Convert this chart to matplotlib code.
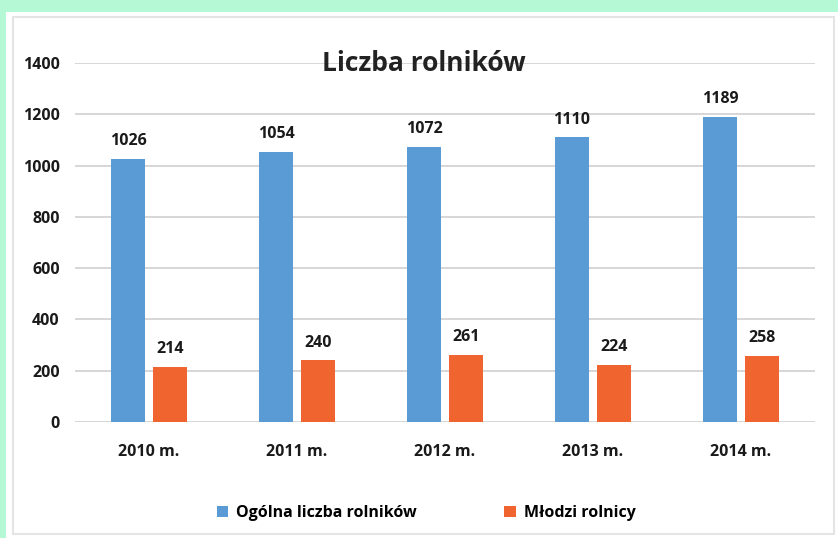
import matplotlib
matplotlib.use("Agg")
import matplotlib.pyplot as plt
from matplotlib.patches import Rectangle
import numpy as np

categories = ["2010 m.", "2011 m.", "2012 m.", "2013 m.", "2014 m."]
ogolna = [1026, 1054, 1072, 1110, 1189]
mlodzi = [214, 240, 261, 224, 258]
series_names = ["Ogólna liczba rolników", "Młodzi rolnicy"]
yticks = [0, 200, 400, 600, 800, 1000, 1200, 1400]

plt.rcParams['font.family'] = ['Liberation Sans Narrow', 'Open Sans', 'DejaVu Sans']

W, H = 838, 538
fig = plt.figure(figsize=(W/100, H/100), dpi=100)
fig.patch.set_facecolor('#b5f8d5')

# white panel
fig.patches.append(Rectangle((6/W, 0), 1 - 6/W, 1 - 12/H, transform=fig.transFigure,
                             facecolor='white', edgecolor='none', zorder=-2))
# faint inner border
fig.patches.append(Rectangle((13/W, 4/H), 1 - 13/W - 4/W, 1 - 17/H - 4/H, transform=fig.transFigure,
                             facecolor='none', edgecolor='#e4e4e4', lw=1.5, zorder=-1))

ax = fig.add_axes([75/W, 1 - 422/H, (815 - 75)/W, (422 - 63)/H])
ax.set_zorder(2)
ax.set_facecolor('none')

x = np.arange(len(categories))
bw = 0.235
off = 0.142
blue = '#5b9bd5'
orange = '#f0652f'
b1 = ax.bar(x - off, ogolna, bw, color=blue, label=series_names[0], zorder=3)
b2 = ax.bar(x + off, mlodzi, bw, color=orange, label=series_names[1], zorder=3)

for bars, vals in ((b1, ogolna), (b2, mlodzi)):
    for r, v in zip(bars, vals):
        ax.annotate(str(v), (r.get_x() + r.get_width()/2, v), xytext=(0, 7),
                    textcoords='offset points', ha='center', va='bottom',
                    fontsize=11.5, fontweight='bold', color='#1a1a1a')

ax.set_xlim(-0.5, len(categories) - 0.5)
ax.set_ylim(0, 1400)
ax.set_yticks(yticks)
ax.set_yticklabels([str(t) for t in yticks], fontsize=11.5, fontweight='bold', color='#1a1a1a')
ax.set_xticks(x)
ax.set_xticklabels(categories, fontsize=11.5, fontweight='bold', color='#1a1a1a')
ax.tick_params(axis='both', length=0)
ax.tick_params(axis='y', pad=11)
ax.tick_params(axis='x', pad=16)
ax.grid(axis='y', color='#d0d0d0', lw=1.2, zorder=0)
for s in ax.spines.values():
    s.set_visible(False)

ax.set_title("Liczba rolników", fontsize=19, fontweight='bold', color='#222222',
             x=(424 - 75) / 740, y=1.0, pad=-6)

leg = fig.legend(handles=[b1, b2], labels=series_names, loc='center', ncol=2,
                 bbox_to_anchor=(426/W, 1 - 513/H), frameon=False,
                 prop={'size': 11.5, 'weight': 'bold'}, handlelength=0.7, handleheight=0.7,
                 columnspacing=5.5, handletextpad=0.5)

fig.savefig("out.png", dpi=100)
